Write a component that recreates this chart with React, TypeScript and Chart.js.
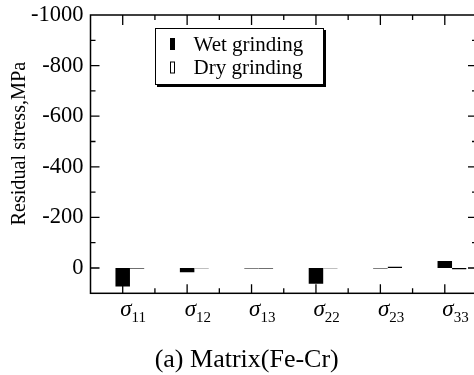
import React, { useEffect, useRef } from 'react';
import { Chart, registerables } from 'chart.js';

Chart.register(...registerables);

const categories = ['11', '12', '13', '22', '23', '33'];
const symbol = 'σ';
const wetValues = [73, 17, 2, 62, 2, -28];
const dryValues = [3, 2, 3, 2, -6, 6];
const seriesLabels = ['Wet grinding', 'Dry grinding'];
const yLabeledTicks = [-1000, -800, -600, -400, -200, 0];
const yTitle = 'Residual stress,MPa';
const chartTitle = '(a) Matrix(Fe-Cr)';

const SERIF = '"Liberation Serif", "Times New Roman", serif';

const decorPlugin = {
  id: 'decor',
  afterDraw(chart: any) {
    const { ctx, chartArea } = chart;
    const { left, top, right, bottom } = chartArea;
    const x = chart.scales.x;
    const y = chart.scales.y;
    ctx.save();
    ctx.strokeStyle = '#000';
    ctx.fillStyle = '#000';
    ctx.lineWidth = 1.5;
    ctx.strokeRect(left, top, right - left, bottom - top);

    // x ticks
    ctx.lineWidth = 1.3;
    const n = categories.length;
    for (let i = 0; i < n; i++) {
      const px = x.getPixelForValue(i);
      ctx.beginPath();
      ctx.moveTo(px, bottom); ctx.lineTo(px, bottom - 9);
      ctx.moveTo(px, top); ctx.lineTo(px, top + 10);
      ctx.stroke();
      if (i < n - 1) {
        const mx = (px + x.getPixelForValue(i + 1)) / 2;
        ctx.beginPath();
        ctx.moveTo(mx, bottom); ctx.lineTo(mx, bottom - 5);
        ctx.moveTo(mx, top); ctx.lineTo(mx, top + 5);
        ctx.stroke();
      }
    }
    // y ticks
    y.ticks.forEach((t: any) => {
      const py = y.getPixelForValue(t.value);
      if (py <= top + 0.5 || py >= bottom - 0.5) return;
      const len = t.value % 200 === 0 ? 9 : 5;
      ctx.beginPath();
      ctx.moveTo(left, py); ctx.lineTo(left + len, py);
      ctx.moveTo(right, py); ctx.lineTo(right - len, py);
      ctx.stroke();
    });

    // x labels
    ctx.textBaseline = 'alphabetic';
    ctx.textAlign = 'left';
    for (let i = 0; i < n; i++) {
      const px = x.getPixelForValue(i) - 2.5;
      ctx.font = `italic 23px ${SERIF}`;
      ctx.fillText(symbol, px, bottom + 23);
      const w = ctx.measureText(symbol).width;
      ctx.font = `15px ${SERIF}`;
      ctx.fillText(categories[i], px + w, bottom + 29);
    }

    // y title
    ctx.save();
    ctx.translate(left - 71, (top + bottom) / 2 - 10.5);
    ctx.rotate(-Math.PI / 2);
    ctx.textAlign = 'center';
    ctx.textBaseline = 'middle';
    ctx.font = `20.2px ${SERIF}`;
    ctx.fillText(yTitle, 0, 0);
    ctx.restore();

    // chart title
    ctx.textAlign = 'center';
    ctx.font = `26px ${SERIF}`;
    ctx.fillText(chartTitle, 246.7, bottom + 74);

    // legend
    const lx = left + 64.5;
    const ly = top + 13;
    const lw = 169;
    const lh = 57;
    ctx.fillStyle = '#000';
    ctx.fillRect(lx + 2, ly + 2, lw, lh);
    ctx.fillStyle = '#fff';
    ctx.fillRect(lx, ly, lw, lh);
    ctx.lineWidth = 1;
    ctx.strokeStyle = '#000';
    ctx.strokeRect(lx + 0.5, ly + 0.5, lw - 1, lh - 1);
    ctx.textAlign = 'left';
    ctx.font = `21px ${SERIF}`;
    const dsets = chart.data.datasets.filter((d: any) => d.label);
    dsets.forEach((d: any, k: number) => {
      const my = ly + 10 + k * 23.5;
      ctx.fillStyle = d.borderColor;
      ctx.fillRect(lx + 15, my, 5, 12);
      ctx.fillStyle = d.backgroundColor;
      ctx.fillRect(lx + 16, my + 1, 3, 10);
      ctx.fillStyle = '#000';
      ctx.fillText(d.label, lx + 38.5, my + 12.5);
    });
    ctx.restore();
  },
};

export default function App() {
  const ref = useRef<HTMLCanvasElement>(null);
  useEffect(() => {
    document.body.style.margin = '0';
    const chart = new Chart(ref.current as HTMLCanvasElement, {
      type: 'bar',
      data: {
        labels: categories,
        datasets: [
          { label: '', data: categories.map(() => null), backgroundColor: '#fff', borderColor: '#fff' },
          { label: seriesLabels[0], data: wetValues, backgroundColor: '#000', borderColor: '#000', borderWidth: 0 },
          { label: seriesLabels[1], data: dryValues, backgroundColor: '#fff', borderColor: '#000', borderWidth: 1 },
        ] as any,
      },
      options: {
        animation: false,
        responsive: false,
        devicePixelRatio: 1,
        layout: { padding: { left: 0, top: 15, right: 3, bottom: 81.7 } },
        datasets: { bar: { categoryPercentage: 0.675, barPercentage: 1, borderSkipped: false } } as any,
        plugins: { legend: { display: false }, tooltip: { enabled: false }, title: { display: false } },
        scales: {
          x: {
            type: 'category',
            offset: true,
            grid: { display: false, drawTicks: false },
            border: { display: false },
            ticks: { display: false },
            afterFit: (s: any) => { s.height = 0; s.paddingLeft = 0; s.paddingRight = 0; },
          },
          y: {
            type: 'linear',
            reverse: true,
            min: -1000,
            max: 100,
            grid: { display: false, drawTicks: false },
            border: { display: false },
            ticks: {
              stepSize: 100,
              autoSkip: false,
              padding: 7,
              color: '#000',
              font: { family: SERIF, size: 22.5 },
              callback: (v: any) => (yLabeledTicks.includes(Number(v)) ? String(v) : ''),
            },
            afterFit: (s: any) => { s.width = 90.5; s.paddingTop = 0; s.paddingBottom = 0; },
          },
        },
      } as any,
      plugins: [decorPlugin],
    });
    return () => chart.destroy();
  }, []);
  return (
    <div style={{ width: 474, height: 375, overflow: 'hidden', background: '#fff' }}>
      <canvas ref={ref} width={480} height={375} style={{ display: 'block' }} />
    </div>
  );
}
